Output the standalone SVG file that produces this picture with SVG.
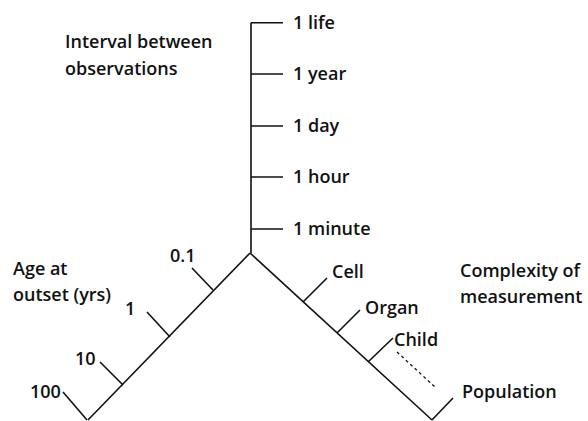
<svg xmlns="http://www.w3.org/2000/svg" width="588" height="421" viewBox="0 0 588 421">
<style>
.ax{stroke:#111;stroke-width:1.6;fill:none;stroke-linecap:butt}
.dash{stroke:#111;stroke-width:1.3;stroke-dasharray:3,3;fill:none}
text{font-family:"Open Sans","DejaVu Sans",sans-serif;font-size:18px;font-weight:600;fill:#111}
</style>
<rect width="588" height="421" fill="#fff"/>
<g id="connectors">
<path class="ax" d="M251,22.7 V253 M250,253 L88,420 M250,253 L432,420"/>
<path class="ax" d="M251,22.7 H283 M251,74 H283 M251,126 H283 M251,177 H283 M251,229 H283"/>
<path class="ax" d="M213,290 L192,268 M170,337 L147,312 M123,385 L100,362 M87,420 L63,392"/>
<path class="ax" d="M303,302 L327,278 M337,333 L360,310 M368,362 L393,338 M432,420 L453,398"/>
<path class="dash" d="M397,352 L435,387"/>
</g>
<g id="time-axis">
<text x="65" y="48">Interval between</text>
<text x="65" y="75">observations</text>
<text x="293" y="29">1 life</text>
<text x="293" y="80">1 year</text>
<text x="293" y="132">1 day</text>
<text x="293" y="183">1 hour</text>
<text x="293" y="235">1 minute</text>
</g>
<g id="age-axis">
<text x="13" y="275">Age at</text>
<text x="13" y="301">outset (yrs)</text>
<text x="170" y="262">0.1</text>
<text x="125" y="315">1</text>
<text x="75" y="365">10</text>
<text x="30" y="398">100</text>
</g>
<g id="complexity-axis">
<text x="460" y="277">Complexity of</text>
<text x="460" y="303">measurement</text>
<text x="332" y="278">Cell</text>
<text x="365" y="314">Organ</text>
<text x="394" y="346">Child</text>
<text x="462" y="398">Population</text>
</g>
</svg>
